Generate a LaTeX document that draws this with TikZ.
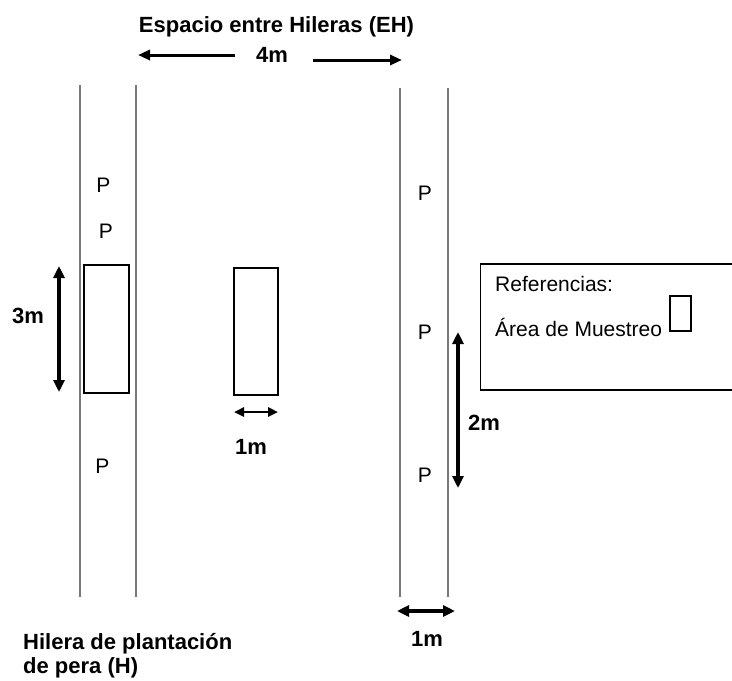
\documentclass[tikz,border=0pt]{standalone}
\usepackage{fontspec}
\setmainfont{Liberation Sans}
\usetikzlibrary{arrows.meta}
\definecolor{rowgray}{RGB}{120,120,120}
\begin{document}
\begin{tikzpicture}[x=1pt,y=-1pt,
  rowline/.style={draw=rowgray, line width=2pt},
  samplebox/.style={draw=black, line width=1.4pt, inner sep=0pt, fill=none},
  boldlbl/.style={font=\fontsize{22}{26}\selectfont\bfseries, inner sep=0pt},
  plainlbl/.style={font=\fontsize{21}{25}\selectfont, inner sep=0pt},
  dimarrow/.style={line width=3.3pt, {Triangle[length=12pt,width=11pt]}-{Triangle[length=12pt,width=11pt]}},
  smallarrow/.style={line width=2.4pt, {Triangle[length=10pt,width=9pt]}-{Triangle[length=10pt,width=9pt]}},
  onearrow/.style={line width=3pt, -{Triangle[length=12pt,width=10pt]}}
]
\useasboundingbox (0,0) rectangle (732,681);
\fill[white] (0,0) rectangle (732,681);

% rows
\draw[rowline] (80,85) -- (80,597);
\draw[rowline] (136,85) -- (136,597);
\draw[rowline] (400,88) -- (400,597);
\draw[rowline] (448,88) -- (448,597);

% title
\node[boldlbl, anchor=base] (title) at (276.5,32) {Espacio entre Hileras (EH)};
\node[boldlbl, anchor=base] (four) at (272,62) {4m};
\coordinate (ehL1) at (235,55);
\coordinate (ehL2) at (138,55);
\coordinate (ehR1) at (313,60);
\coordinate (ehR2) at (402,60);
\draw[onearrow] (ehL1) -- (ehL2);
\draw[onearrow] (ehR1) -- (ehR2);

% plants
\node[plainlbl] (p1) at (103.5,185) {P};
\node[plainlbl] (p2) at (106,231.5) {P};
\node[plainlbl] (p3) at (102.5,466) {P};
\node[plainlbl] (p4) at (425,193) {P};
\node[plainlbl] (p5) at (425,332) {P};
\node[plainlbl] (p6) at (425,475) {P};

% sampling areas
\node[samplebox, minimum width=45pt, minimum height=128pt] (s1) at (106.5,329) {};
\node[samplebox, minimum width=44pt, minimum height=127pt] (s2) at (256,331.5) {};

% 3m
\coordinate (a3t) at (59,266);
\coordinate (a3b) at (59,392);
\draw[dimarrow] (a3t) -- (a3b);
\node[boldlbl] (three) at (28,316) {3m};

% middle 1m
\coordinate (a1l) at (234,412);
\coordinate (a1r) at (278,412);
\draw[smallarrow] (a1l) -- (a1r);
\node[boldlbl] (onemid) at (251,447) {1m};

% 2m
\coordinate (a2t) at (458,332);
\coordinate (a2b) at (458,488);
\draw[dimarrow] (a2t) -- (a2b);
\node[boldlbl] (two) at (484,423) {2m};

% bottom 1m
\coordinate (b1l) at (397,611);
\coordinate (b1r) at (455,611);
\draw[dimarrow] (b1l) -- (b1r);
\node[boldlbl] (onebot) at (427,639) {1m};

% row label
\node[boldlbl, anchor=base west] (hl1) at (23,649) {Hilera de plantación};
\node[boldlbl, anchor=base west] (hl2) at (23,673) {de pera (H)};

% references box
\draw[line width=1.4pt] (733,264) -- (480.5,264) -- (480.5,390) -- (733,390);
\node[plainlbl, anchor=base west] (ref) at (495,291) {Referencias:};
\node[plainlbl, anchor=base west] (area) at (495,336) {Área de Muestreo};
\node[samplebox, minimum width=21pt, minimum height=35pt] (legbox) at (680.5,313.5) {};
\end{tikzpicture}
\end{document}
